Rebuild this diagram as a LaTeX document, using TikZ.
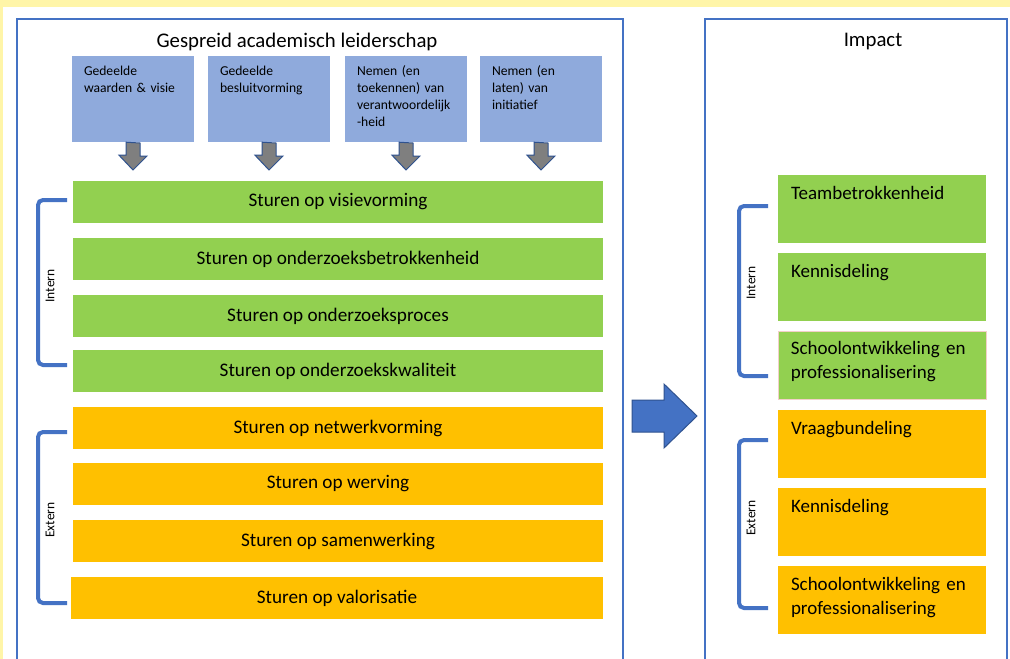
\documentclass[tikz,border=0pt]{standalone}
\usepackage{fontspec}
\setmainfont{Carlito}
\definecolor{bgyellow}{HTML}{FFF5A8}
\definecolor{frameblue}{HTML}{4472C4}
\definecolor{darkblue}{HTML}{2F528F}
\definecolor{boxblue}{HTML}{8FAADC}
\definecolor{bargreen}{HTML}{92D050}
\definecolor{barorange}{HTML}{FFC000}
\definecolor{arrowgray}{HTML}{7F7F7F}
\definecolor{pinkedge}{HTML}{F2D0C8}
\tikzset{
  frame/.style={draw=frameblue, line width=2pt},
  topbox/.style={fill=boxblue, draw=none, minimum width=122pt, minimum height=86pt, inner sep=0pt},
  toptext/.style={anchor=north west, inner sep=0pt, align=left, text width=118pt, font=\fontsize{13.6}{16.8}\selectfont},
  gbar/.style={fill=bargreen, draw=none, minimum width=530pt, minimum height=42pt, inner sep=0pt, font=\fontsize{19.2}{22}\selectfont},
  obar/.style={gbar, fill=barorange},
  rbox/.style={fill=bargreen, draw=none, minimum width=208pt, minimum height=68pt, inner sep=0pt},
  orbox/.style={rbox, fill=barorange},
  rtext/.style={anchor=north west, inner sep=0pt, align=left, text width=200pt, font=\fontsize{19}{24}\selectfont},
  bracket/.style={draw=frameblue, line width=4pt, rounded corners=5pt},
  side/.style={rotate=90, font=\fontsize{13.5}{15}\selectfont},
  downarrow/.style={fill=arrowgray, draw=darkblue, line width=1pt},
  bigarrow/.style={fill=frameblue, draw=darkblue, line width=1pt},
  title/.style={font=\fontsize{20.8}{24}\selectfont}
}
\begin{document}
\begin{tikzpicture}[x=1pt,y=-1pt]
\useasboundingbox (0,0) rectangle (1010,659);
\fill[bgyellow] (0,0) rectangle (1010,659);
\fill[white] (3,7) rectangle (1010,659);
% frames
\draw[frame] (17,680) -- (17,19) -- (623,19) -- (623,680);
\draw[frame] (705,680) -- (705,19) -- (1007,19) -- (1007,680);
\node[title] (t1) at (297,41.5) {Gespreid academisch leiderschap};
\node[title] (t2) at (873,42) {Impact};
% top boxes
\foreach \n/\x/\txt in {b1/133/{Gedeelde\\waarden \& visie}, b2/269/{Gedeelde\\besluitvorming}, b3/406/{Nemen (en\\toekennen) van\\verantwoordelijk\\-heid}, b4/541/{Nemen (en\\laten) van\\initiatief}}{
  \node[topbox] (\n) at (\x,99) {};
  \node[toptext] (\n t) at ([xshift=12pt,yshift=-10pt]\n.north west) {\txt};
  \draw[downarrow] ([xshift=-7pt]\n.south) -- ++(0,13) -- ++(-7,0) -- (\x,170) -- (\x+14,156) -- ++(-7,0) -- ++(0,-13) -- cycle;
}
% bars
\node[gbar] (g1) at (338,202) {Sturen op visievorming};
\node[gbar] (g2) at (338,259) {Sturen op onderzoeksbetrokkenheid};
\node[gbar] (g3) at (338,316) {Sturen op onderzoeksproces};
\node[gbar] (g4) at (338,371) {Sturen op onderzoekskwaliteit};
\node[obar] (o1) at (338,428) {Sturen op netwerkvorming};
\node[obar] (o2) at (338,484) {Sturen op werving};
\node[obar] (o3) at (338,541) {Sturen op samenwerking};
\node[obar, minimum width=532pt] (o4) at (337,598) {Sturen op valorisatie};
% left brackets
\coordinate (li1) at (67,200); \coordinate (li2) at (67,365);
\draw[bracket] (li1) -- (38,200) -- (38,365) -- (li2);
\node[side] (lint) at (50,286) {Intern};
\coordinate (le1) at (67,432); \coordinate (le2) at (67,603);
\draw[bracket] (le1) -- (38,432) -- (38,603) -- (le2);
\node[side] (lext) at (50,520) {Extern};
% big arrow
\coordinate (ba) at (632,400);
\draw[bigarrow] (ba) -- (664,400) -- (664,384) -- (697,416) -- (664,448) -- (664,432) -- (632,432) -- cycle;
% right boxes
\node[rbox] (r1) at (882,209) {};
\node[rbox] (r2) at (882,287) {};
\node[rbox, draw=pinkedge, line width=0.8pt] (r3) at (882,365) {};
\node[orbox] (r4) at (882,444) {};
\node[orbox] (r5) at (882,522) {};
\node[orbox] (r6) at (882,600) {};
\foreach \n/\txt in {r1/{Teambetrokkenheid}, r2/{Kennisdeling}, r3/{Schoolontwikkeling en\\professionalisering}, r4/{Vraagbundeling}, r5/{Kennisdeling}, r6/{Schoolontwikkeling en\\professionalisering}}{
  \node[rtext] (\n t) at ([xshift=13pt,yshift=-11pt]\n.north west) {\txt};
}
% right brackets
\coordinate (ri1) at (768,206); \coordinate (ri2) at (768,376);
\draw[bracket] (ri1) -- (739,206) -- (739,376) -- (ri2);
\node[side] (rint) at (751,283) {Intern};
\coordinate (re1) at (768,440); \coordinate (re2) at (768,608);
\draw[bracket] (re1) -- (739,440) -- (739,608) -- (re2);
\node[side] (rext) at (751,518) {Extern};
\end{tikzpicture}
\end{document}
